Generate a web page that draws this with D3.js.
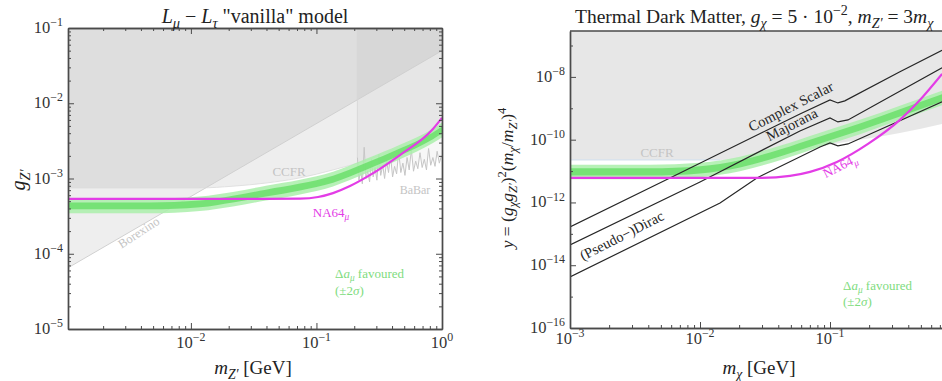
<!DOCTYPE html>
<html><head><meta charset="utf-8">
<script src="https://cdn.jsdelivr.net/npm/d3@7"></script>
<style>
body{margin:0;background:#fff}
svg{display:block}
text{font-family:"Liberation Serif","DejaVu Serif",serif;}
</style></head><body>
<svg id="c" width="942" height="381"></svg>
<script>
// ---------------- L_mu - L_tau panel ----------------
const leftXDomain = [1.05e-3, 1];
const leftYDomain = [1e-5, 1e-1];
const leftXTicks = [1e-2, 1e-1, 1];
const leftXTickExp = ['−2', '−1', '0'];
const leftYTicks = [1e-5, 1e-4, 1e-3, 1e-2, 1e-1];
const leftYTickExp = ['−5', '−4', '−3', '−2', '−1'];

// Borexino bound (straight line in log-log)
const borexinoMass = [1.05e-3, 1.0];
const borexinoCoupling = [6.5e-5, 5.0e-2];

// CCFR neutrino trident bound
const ccfrMass = [1.05e-3, 0.0118, 0.0216, 0.0396, 0.074, 0.1355, 0.252, 0.462, 1.0];
const ccfrCoupling = [7.5e-4, 7.5e-4, 7.9e-4, 8.7e-4, 1.02e-3, 1.3e-3, 1.75e-3, 2.55e-3, 4.7e-3];

// BaBar 4-muon search
const babarMass = [0.212,0.218,0.225,0.232,0.240,0.248,0.256,0.265,0.274,0.283,0.293,0.303,0.314,0.325,0.337,0.349,0.362,0.375,0.389,0.404,0.419,0.435,0.452,0.470,0.488,0.507,0.527,0.548,0.570,0.593,0.617,0.642,0.668,0.695,0.723,0.752,0.782,0.813,0.846,0.880,0.915,0.952,0.99];
const babarCoupling = [1.9e-3,0.95e-3,1.3e-3,0.85e-3,2.6e-3,1.0e-3,1.25e-3,0.9e-3,1.8e-3,1.05e-3,1.4e-3,0.95e-3,2.1e-3,1.1e-3,1.5e-3,1.0e-3,1.7e-3,1.2e-3,2.0e-3,1.05e-3,1.45e-3,1.15e-3,2.3e-3,1.2e-3,1.6e-3,1.1e-3,1.9e-3,1.3e-3,2.4e-3,1.25e-3,1.7e-3,1.35e-3,2.2e-3,1.4e-3,1.8e-3,1.3e-3,2.5e-3,1.5e-3,1.9e-3,1.45e-3,2.3e-3,1.6e-3,2.0e-3];

// (g-2)_mu favoured band
const amuMass = [1.05e-3, 4.7e-3, 0.0118, 0.0216, 0.0396, 0.074, 0.1355, 0.252, 0.462, 0.847, 1.0];
const amuOuterHi = [5.4e-4, 5.4e-4, 5.75e-4, 6.6e-4, 8.0e-4, 9.6e-4, 1.23e-3, 1.84e-3, 2.8e-3, 4.6e-3, 5.5e-3];
const amuOuterLo = [3.45e-4, 3.45e-4, 3.7e-4, 4.25e-4, 5.1e-4, 6.15e-4, 7.85e-4, 1.18e-3, 1.8e-3, 2.96e-3, 3.5e-3];
const amuInnerHi = [4.8e-4, 4.8e-4, 5.1e-4, 5.9e-4, 7.1e-4, 8.55e-4, 1.09e-3, 1.63e-3, 2.5e-3, 4.1e-3, 4.9e-3];
const amuInnerLo = [3.9e-4, 3.9e-4, 4.15e-4, 4.8e-4, 5.75e-4, 6.95e-4, 8.8e-4, 1.32e-3, 2.03e-3, 3.33e-3, 3.95e-3];

// NA64mu projected sensitivity
const na64Mass = [1.05e-3, 0.0295, 0.074, 0.103, 0.1355, 0.185, 0.252, 0.462, 0.847, 1.0];
const na64Coupling = [5.35e-4, 5.35e-4, 5.4e-4, 5.68e-4, 6.4e-4, 7.94e-4, 1.05e-3, 2.05e-3, 4.55e-3, 6.4e-3];

// ---------------- thermal dark matter panel ----------------
const rightXDomain = [1e-3, 1];
const rightYDomain = [1e-16, 2.9e-7];
const rightXTicks = [1e-3, 1e-2, 1e-1];
const rightXTickExp = ['−3', '−2', '−1'];
const rightYTicks = [1e-16, 1e-14, 1e-12, 1e-10, 1e-8];
const rightYTickExp = ['−16', '−14', '−12', '−10', '−8'];

const ccfrDMMass = [1e-3, 0.01426, 0.0412, 0.119, 0.345, 0.728];
const ccfrDMY = [2.26e-11, 2.26e-11, 3.52e-11, 7.87e-11, 1.64e-10, 3.18e-10];

const dmBandMass = [1e-3, 4.12e-3, 0.01, 0.0203, 0.0412, 0.0838, 0.170, 0.345, 0.728];
const dmOuterHi = [1.6e-11, 1.6e-11, 1.85e-11, 2.87e-11, 6.4e-11, 1.67e-10, 4.3e-10, 1.21e-9, 3.6e-9];
const dmOuterLo = [5.5e-12, 5.5e-12, 6.4e-12, 9.9e-12, 2.22e-11, 5.8e-11, 1.5e-10, 4.2e-10, 1.26e-9];
const dmInnerHi = [1.22e-11, 1.22e-11, 1.42e-11, 2.2e-11, 4.9e-11, 1.27e-10, 3.3e-10, 9.3e-10, 2.8e-9];
const dmInnerLo = [7.2e-12, 7.2e-12, 8.4e-12, 1.3e-11, 2.9e-11, 7.5e-11, 1.96e-10, 5.5e-10, 1.65e-9];

const scalarMass = [1e-3, 5.87e-3, 0.0587, 0.1, 0.115, 0.130, 0.345, 0.728];
const scalarY = [1.66e-13, 6.0e-12, 6.6e-10, 1.85e-9, 1.48e-9, 1.72e-9, 1.45e-8, 7.0e-8];
const majoranaMass = [1e-3, 0.01, 0.0587, 0.1, 0.115, 0.1375, 0.728];
const majoranaY = [4.43e-14, 4.5e-12, 1.9e-10, 4.93e-10, 3.68e-10, 4.26e-10, 1.94e-8];
const diracMass = [1e-3, 0.01426, 0.0274, 0.0838, 0.1, 0.115, 0.1375, 0.728];
const diracY = [4.23e-15, 9.6e-13, 6.04e-12, 5.87e-11, 7.87e-11, 6.32e-11, 7.32e-11, 1.6e-9];

const na64DMMass = [1e-3, 0.029, 0.0492, 0.0702, 0.113, 0.196, 0.345, 0.492, 0.728];
const na64DMY = [6.04e-12, 6.04e-12, 7.0e-12, 9.4e-12, 1.95e-11, 7.33e-11, 4.27e-10, 1.85e-9, 1.25e-8];

// ---------------- drawing ----------------
const svg = d3.select('#c');
const GRAY_A = 0.065;
const MAGENTA = '#e33ce6';
const GREEN_OUT = '#aaeeaa';
const GREEN_IN = '#6fe06f';
const AXIS = '#4a4a4a';

const zip = (xs, ...ys) => xs.map((x, i) => [x, ...ys.map(a => a[i])]);

function rich(parent, x, y, parts, fs, opts = {}) {
  const t = parent.append('text').attr('x', x).attr('y', y).attr('font-size', fs)
    .attr('text-anchor', opts.anchor || 'start').attr('fill', opts.fill || '#222');
  if (opts.rotate) t.attr('transform', `rotate(${opts.rotate},${x},${y})`);
  let cur = 0;
  parts.forEach(([s, k]) => {
    let off = 0, size = fs;
    if (k.includes('b')) { off = fs * 0.25; size = fs * 0.72; }
    if (k.includes('p')) { off = -fs * 0.42; size = fs * 0.72; }
    t.append('tspan').attr('dy', (off - cur).toFixed(2)).attr('font-size', size.toFixed(2))
      .attr('font-style', k.includes('i') ? 'italic' : 'normal').text(s);
    cur = off;
  });
  return t;
}

function minorTicks(lo, hi) {
  const out = [];
  for (let e = Math.floor(Math.log10(lo)); e <= Math.ceil(Math.log10(hi)); e++)
    for (let k = 2; k <= 9; k++) { const v = k * Math.pow(10, e); if (v > lo && v < hi) out.push(v); }
  return out;
}

function styleAxis(g) {
  g.select('.domain').attr('stroke', AXIS).attr('stroke-width', 1.4);
  g.selectAll('.tick line').attr('stroke', AXIS).attr('stroke-width', 1);
}

// ===== Left panel =====
const xL = d3.scaleLog().domain(leftXDomain).range([68, 442]);
const yL = d3.scaleLog().domain(leftYDomain).range([329, 28]);
const defs = svg.append('defs');
defs.append('clipPath').attr('id', 'clipL').append('rect').attr('x', 68).attr('y', 28).attr('width', 374).attr('height', 301);
defs.append('clipPath').attr('id', 'clipR').append('rect').attr('x', 570).attr('y', 31).attr('width', 390).attr('height', 297);

const L = svg.append('g').attr('clip-path', 'url(#clipL)');
const aboveL = d3.area().x(d => xL(d[0])).y0(28).y1(d => yL(d[1]));
const lineL = d3.line().x(d => xL(d[0])).y(d => yL(d[1]));

L.append('path').datum(zip(borexinoMass, borexinoCoupling)).attr('d', aboveL).attr('fill', '#000').attr('fill-opacity', GRAY_A);
L.append('path').datum(zip(ccfrMass, ccfrCoupling)).attr('d', aboveL.curve(d3.curveMonotoneX)).attr('fill', '#000').attr('fill-opacity', GRAY_A);
L.append('path').datum(zip(babarMass, babarCoupling)).attr('d', d3.area().x(d => xL(d[0])).y0(28).y1(d => yL(d[1]))).attr('fill', '#000').attr('fill-opacity', 0.03);
L.append('path').datum(zip(borexinoMass, borexinoCoupling)).attr('d', lineL).attr('fill', 'none').attr('stroke', '#d0d0d0').attr('stroke-width', 1);
L.append('path').datum(zip(ccfrMass, ccfrCoupling)).attr('d', lineL.curve(d3.curveMonotoneX)).attr('fill', 'none').attr('stroke', '#dadada').attr('stroke-width', 0.8);
L.append('line').attr('x1', xL(babarMass[0])).attr('x2', xL(babarMass[0])).attr('y1', 28).attr('y2', yL(babarCoupling[0]))
  .attr('stroke', '#d6d6d6').attr('stroke-width', 0.8);
L.append('path').datum(zip(babarMass, babarCoupling)).attr('d', d3.line().x(d => xL(d[0])).y(d => yL(d[1])))
  .attr('fill', 'none').attr('stroke', '#c6c6c6').attr('stroke-width', 1);

const bandL = d3.area().x(d => xL(d[0])).y0(d => yL(d[1])).y1(d => yL(d[2])).curve(d3.curveMonotoneX);
L.append('path').datum(zip(amuMass, amuOuterLo, amuOuterHi)).attr('d', bandL).attr('fill', GREEN_OUT).attr('fill-opacity', 0.85);
L.append('path').datum(zip(amuMass, amuInnerLo, amuInnerHi)).attr('d', bandL).attr('fill', GREEN_IN).attr('fill-opacity', 0.9);
L.append('path').datum(zip(na64Mass, na64Coupling)).attr('d', d3.line().x(d => xL(d[0])).y(d => yL(d[1])).curve(d3.curveMonotoneX))
  .attr('fill', 'none').attr('stroke', MAGENTA).attr('stroke-width', 2.2);

// labels inside the left plot
rich(svg, 289, 176, [['CCFR', 'n']], 13, { anchor: 'middle', fill: '#c4c4c4' });
rich(svg, 415, 194, [['BaBar', 'n']], 12, { anchor: 'middle', fill: '#c4c4c4' });
rich(svg, 141, 236, [['Borexino', 'n']], 12.5, { anchor: 'middle', fill: '#c4c4c4', rotate: -33 });
rich(svg, 331, 217, [['NA64', 'n'], ['μ', 'bi']], 13, { anchor: 'middle', fill: MAGENTA });
rich(svg, 335, 278, [['Δ', 'n'], ['a', 'i'], ['μ', 'bi'], [' favoured', 'n']], 13, { fill: '#80dc80' });
rich(svg, 335, 295, [['(±2', 'n'], ['σ', 'i'], [')', 'n']], 13, { fill: '#80dc80' });

// left axes (ticks inward on all four sides)
const lxMinor = minorTicks(leftXDomain[0], leftXDomain[1]);
const lyMinor = minorTicks(leftYDomain[0], leftYDomain[1]);
[
  [d3.axisBottom(xL), 0, 329, leftXTicks, lxMinor],
  [d3.axisTop(xL), 0, 28, leftXTicks, lxMinor],
  [d3.axisLeft(yL), 68, 0, leftYTicks, lyMinor],
  [d3.axisRight(yL), 442, 0, leftYTicks, lyMinor]
].forEach(([ax, tx, ty, maj, min]) => {
  styleAxis(svg.append('g').attr('transform', `translate(${tx},${ty})`)
    .call(ax.tickValues(min).tickSizeInner(-3).tickSizeOuter(0).tickFormat('')));
  styleAxis(svg.append('g').attr('transform', `translate(${tx},${ty})`)
    .call(ax.tickValues(maj).tickSizeInner(-6).tickSizeOuter(0).tickFormat('')));
});
leftXTicks.forEach((v, i) => rich(svg, xL(v), 348, [['10', 'n'], [leftXTickExp[i], 'p']], 16.5, { anchor: 'middle', fill: '#333' }));
leftYTicks.forEach((v, i) => rich(svg, 63, yL(v) + 5, [['10', 'n'], [leftYTickExp[i], 'p']], 16.5, { anchor: 'end', fill: '#333' }));

rich(svg, 255, 23, [['L', 'i'], ['μ', 'bi'], [' − ', 'n'], ['L', 'i'], ['τ', 'bi'], [' "vanilla" model', 'n']], 20, { anchor: 'middle' });
rich(svg, 253, 374, [['m', 'i'], ['Z′', 'bi'], [' [GeV]', 'n']], 19, { anchor: 'middle' });
rich(svg, 25, 180, [['g', 'i'], ['Z′', 'bi']], 20, { anchor: 'middle', rotate: -90 });

// ===== Right panel =====
const xR = d3.scaleLog().domain(rightXDomain).range([570, 960]);
const yR = d3.scaleLog().domain(rightYDomain).range([328, 31]);
const R = svg.append('g').attr('clip-path', 'url(#clipR)');

R.append('path').datum(zip(ccfrDMMass, ccfrDMY)).attr('d', d3.area().x(d => xR(d[0])).y0(31).y1(d => yR(d[1])).curve(d3.curveMonotoneX))
  .attr('fill', '#000').attr('fill-opacity', 0.095);
R.append('path').datum(zip(ccfrDMMass.slice(0, 2), ccfrDMY.slice(0, 2))).attr('d', d3.line().x(d => xR(d[0])).y(d => yR(d[1])))
  .attr('fill', 'none').attr('stroke', '#d6e2ee').attr('stroke-width', 1.2);

const bandR = d3.area().x(d => xR(d[0])).y0(d => yR(d[1])).y1(d => yR(d[2])).curve(d3.curveMonotoneX);
R.append('path').datum(zip(dmBandMass, dmOuterLo, dmOuterHi)).attr('d', bandR).attr('fill', GREEN_OUT).attr('fill-opacity', 0.85);
R.append('path').datum(zip(dmBandMass, dmInnerLo, dmInnerHi)).attr('d', bandR).attr('fill', GREEN_IN).attr('fill-opacity', 0.9);

const thermal = d3.line().x(d => xR(d[0])).y(d => yR(d[1]));
[[scalarMass, scalarY], [majoranaMass, majoranaY], [diracMass, diracY]].forEach(([m, yv]) => {
  R.append('path').datum(zip(m, yv)).attr('d', thermal).attr('fill', 'none').attr('stroke', '#262626').attr('stroke-width', 1.2);
});
R.append('path').datum(zip(na64DMMass, na64DMY)).attr('d', d3.line().x(d => xR(d[0])).y(d => yR(d[1])).curve(d3.curveMonotoneX))
  .attr('fill', 'none').attr('stroke', MAGENTA).attr('stroke-width', 2.2);

rich(svg, 657, 157, [['CCFR', 'n']], 13, { anchor: 'middle', fill: '#c4c4c4' });
rich(svg, 793, 111, [['Complex Scalar', 'n']], 14.5, { anchor: 'middle', fill: '#262626', rotate: -27 });
rich(svg, 794, 129, [['Majorana', 'n']], 14.5, { anchor: 'middle', fill: '#262626', rotate: -27 });
rich(svg, 624, 240, [['(Pseudo−)Dirac', 'n']], 14.5, { anchor: 'middle', fill: '#262626', rotate: -27 });
rich(svg, 842, 170, [['NA64', 'n'], ['μ', 'bi']], 13, { anchor: 'middle', fill: MAGENTA, rotate: -27 });
rich(svg, 843, 290, [['Δ', 'n'], ['a', 'i'], ['μ', 'bi'], [' favoured', 'n']], 13, { fill: '#80dc80' });
rich(svg, 843, 306, [['(±2', 'n'], ['σ', 'i'], [')', 'n']], 13, { fill: '#80dc80' });

// right axes
const rxMinor = minorTicks(rightXDomain[0], rightXDomain[1]);
const ryMinor = [1e-15, 1e-13, 1e-11, 1e-9, 1e-7];
[[d3.axisBottom(xR), 0, 328, rightXTicks, rxMinor], [d3.axisLeft(yR), 570, 0, rightYTicks, ryMinor]].forEach(([ax, tx, ty, maj, min]) => {
  styleAxis(svg.append('g').attr('transform', `translate(${tx},${ty})`)
    .call(ax.tickValues(min).tickSizeInner(-3).tickSizeOuter(0).tickFormat('')));
  styleAxis(svg.append('g').attr('transform', `translate(${tx},${ty})`)
    .call(ax.tickValues(maj).tickSizeInner(-6).tickSizeOuter(0).tickFormat('')));
});
svg.append('line').attr('x1', 570).attr('x2', 960).attr('y1', 31).attr('y2', 31).attr('stroke', AXIS).attr('stroke-width', 1.4);
rightXTicks.forEach((v, i) => rich(svg, xR(v), 344, [['10', 'n'], [rightXTickExp[i], 'p']], 16.5, { anchor: 'middle', fill: '#333' }));
rightYTicks.forEach((v, i) => rich(svg, 565, yR(v) + 5, [['10', 'n'], [rightYTickExp[i], 'p']], 16.5, { anchor: 'end', fill: '#333' }));

rich(svg, 575, 23, [['Thermal Dark Matter, ', 'n'], ['g', 'i'], ['χ', 'bi'], [' = 5 · 10', 'n'], ['−2', 'p'], [', ', 'n'],
  ['m', 'i'], ['Z′', 'bi'], [' = 3', 'n'], ['m', 'i'], ['χ', 'bi']], 19.5);
rich(svg, 759, 374, [['m', 'i'], ['χ', 'bi'], [' [GeV]', 'n']], 19, { anchor: 'middle' });
rich(svg, 513, 178, [['y', 'i'], [' = (', 'n'], ['g', 'i'], ['χ', 'bi'], ['g', 'i'], ['Z′', 'bi'], [')', 'n'], ['2', 'p'], ['(', 'n'],
  ['m', 'i'], ['χ', 'bi'], ['/', 'n'], ['m', 'i'], ['Z′', 'bi'], [')', 'n'], ['4', 'p']], 17.5, { anchor: 'middle', rotate: -90 });
</script>
</body></html>
